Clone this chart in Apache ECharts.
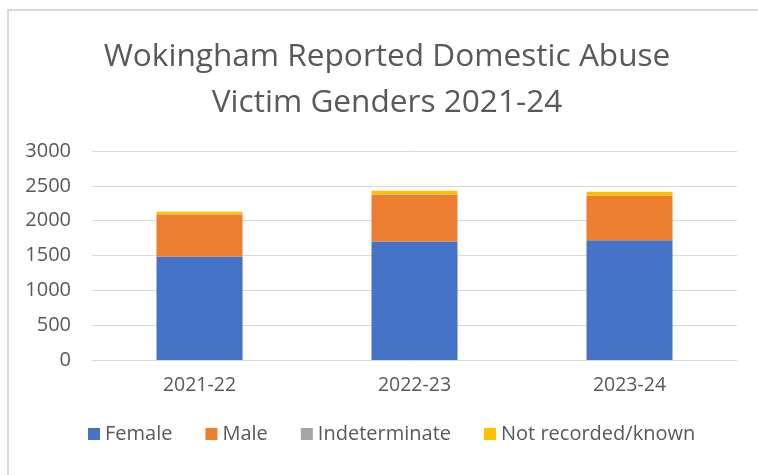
<!DOCTYPE html>
<html>
<head>
<meta charset="utf-8">
<script src="https://cdn.jsdelivr.net/npm/echarts@6/dist/echarts.min.js"></script>
<style>
  html, body { margin: 0; padding: 0; background: #fff; }
  #chart { width: 758px; height: 475px; }
</style>
</head>
<body>
<div id="chart"></div>
<script>
const years = ['2021-22', '2022-23', '2023-24'];
const female = [1485, 1700, 1720];
const male = [605, 670, 635];
const indeterminate = [3, 4, 4];
const notRecorded = [35, 55, 55];
const yTicks = [0, 500, 1000, 1500, 2000, 2500, 3000];

const textColor = '#595959';
const font = '"Open Sans", sans-serif';

const chart = echarts.init(document.getElementById('chart'));

const mkSeries = (name, data, color) => ({
  name: name,
  type: 'bar',
  stack: 'total',
  data: data,
  barWidth: '40%',
  itemStyle: { color: color },
  emphasis: { disabled: true }
});

const option = {
  animation: false,
  textStyle: { fontFamily: font },
  title: {
    text: 'Wokingham Reported Domestic Abuse\nVictim Genders 2021-24',
    left: 382,
    textAlign: 'center',
    top: 29,
    textStyle: {
      color: textColor,
      fontSize: 31.6,
      fontWeight: 'normal',
      lineHeight: 46,
      fontFamily: font
    }
  },
  graphic: [{
    type: 'rect',
    shape: { x: 8, y: 10, width: 770, height: 480 },
    style: { fill: 'none', stroke: '#d9d9d9', lineWidth: 2 },
    silent: true
  }],
  legend: {
    bottom: 26,
    left: 83,
    itemWidth: 12,
    itemHeight: 12,
    itemGap: 33,
    icon: 'rect',
    textStyle: { color: textColor, fontSize: 20, fontFamily: font },
    data: ['Female', 'Male', 'Indeterminate', 'Not recorded/known']
  },
  grid: { left: 92, right: 21, top: 151, bottom: 115 },
  xAxis: {
    type: 'category',
    data: years,
    axisTick: { show: false },
    axisLine: { lineStyle: { color: '#d9d9d9', width: 1 } },
    axisLabel: { color: textColor, fontSize: 19.5, margin: 15 }
  },
  yAxis: {
    type: 'value',
    min: yTicks[0],
    max: yTicks[yTicks.length - 1],
    interval: 500,
    axisLine: { show: false },
    axisTick: { show: false },
    splitLine: { lineStyle: { color: '#d9d9d9', width: 1 } },
    axisLabel: {
      color: textColor,
      fontSize: 20,
      margin: 21,
      formatter: (v) => String(v)
    }
  },
  series: [
    mkSeries('Female', female, '#4472C4'),
    mkSeries('Male', male, '#ED7D31'),
    mkSeries('Indeterminate', indeterminate, '#A5A5A5'),
    mkSeries('Not recorded/known', notRecorded, '#FFC000')
  ]
};

chart.setOption(option);
</script>
</body>
</html>
